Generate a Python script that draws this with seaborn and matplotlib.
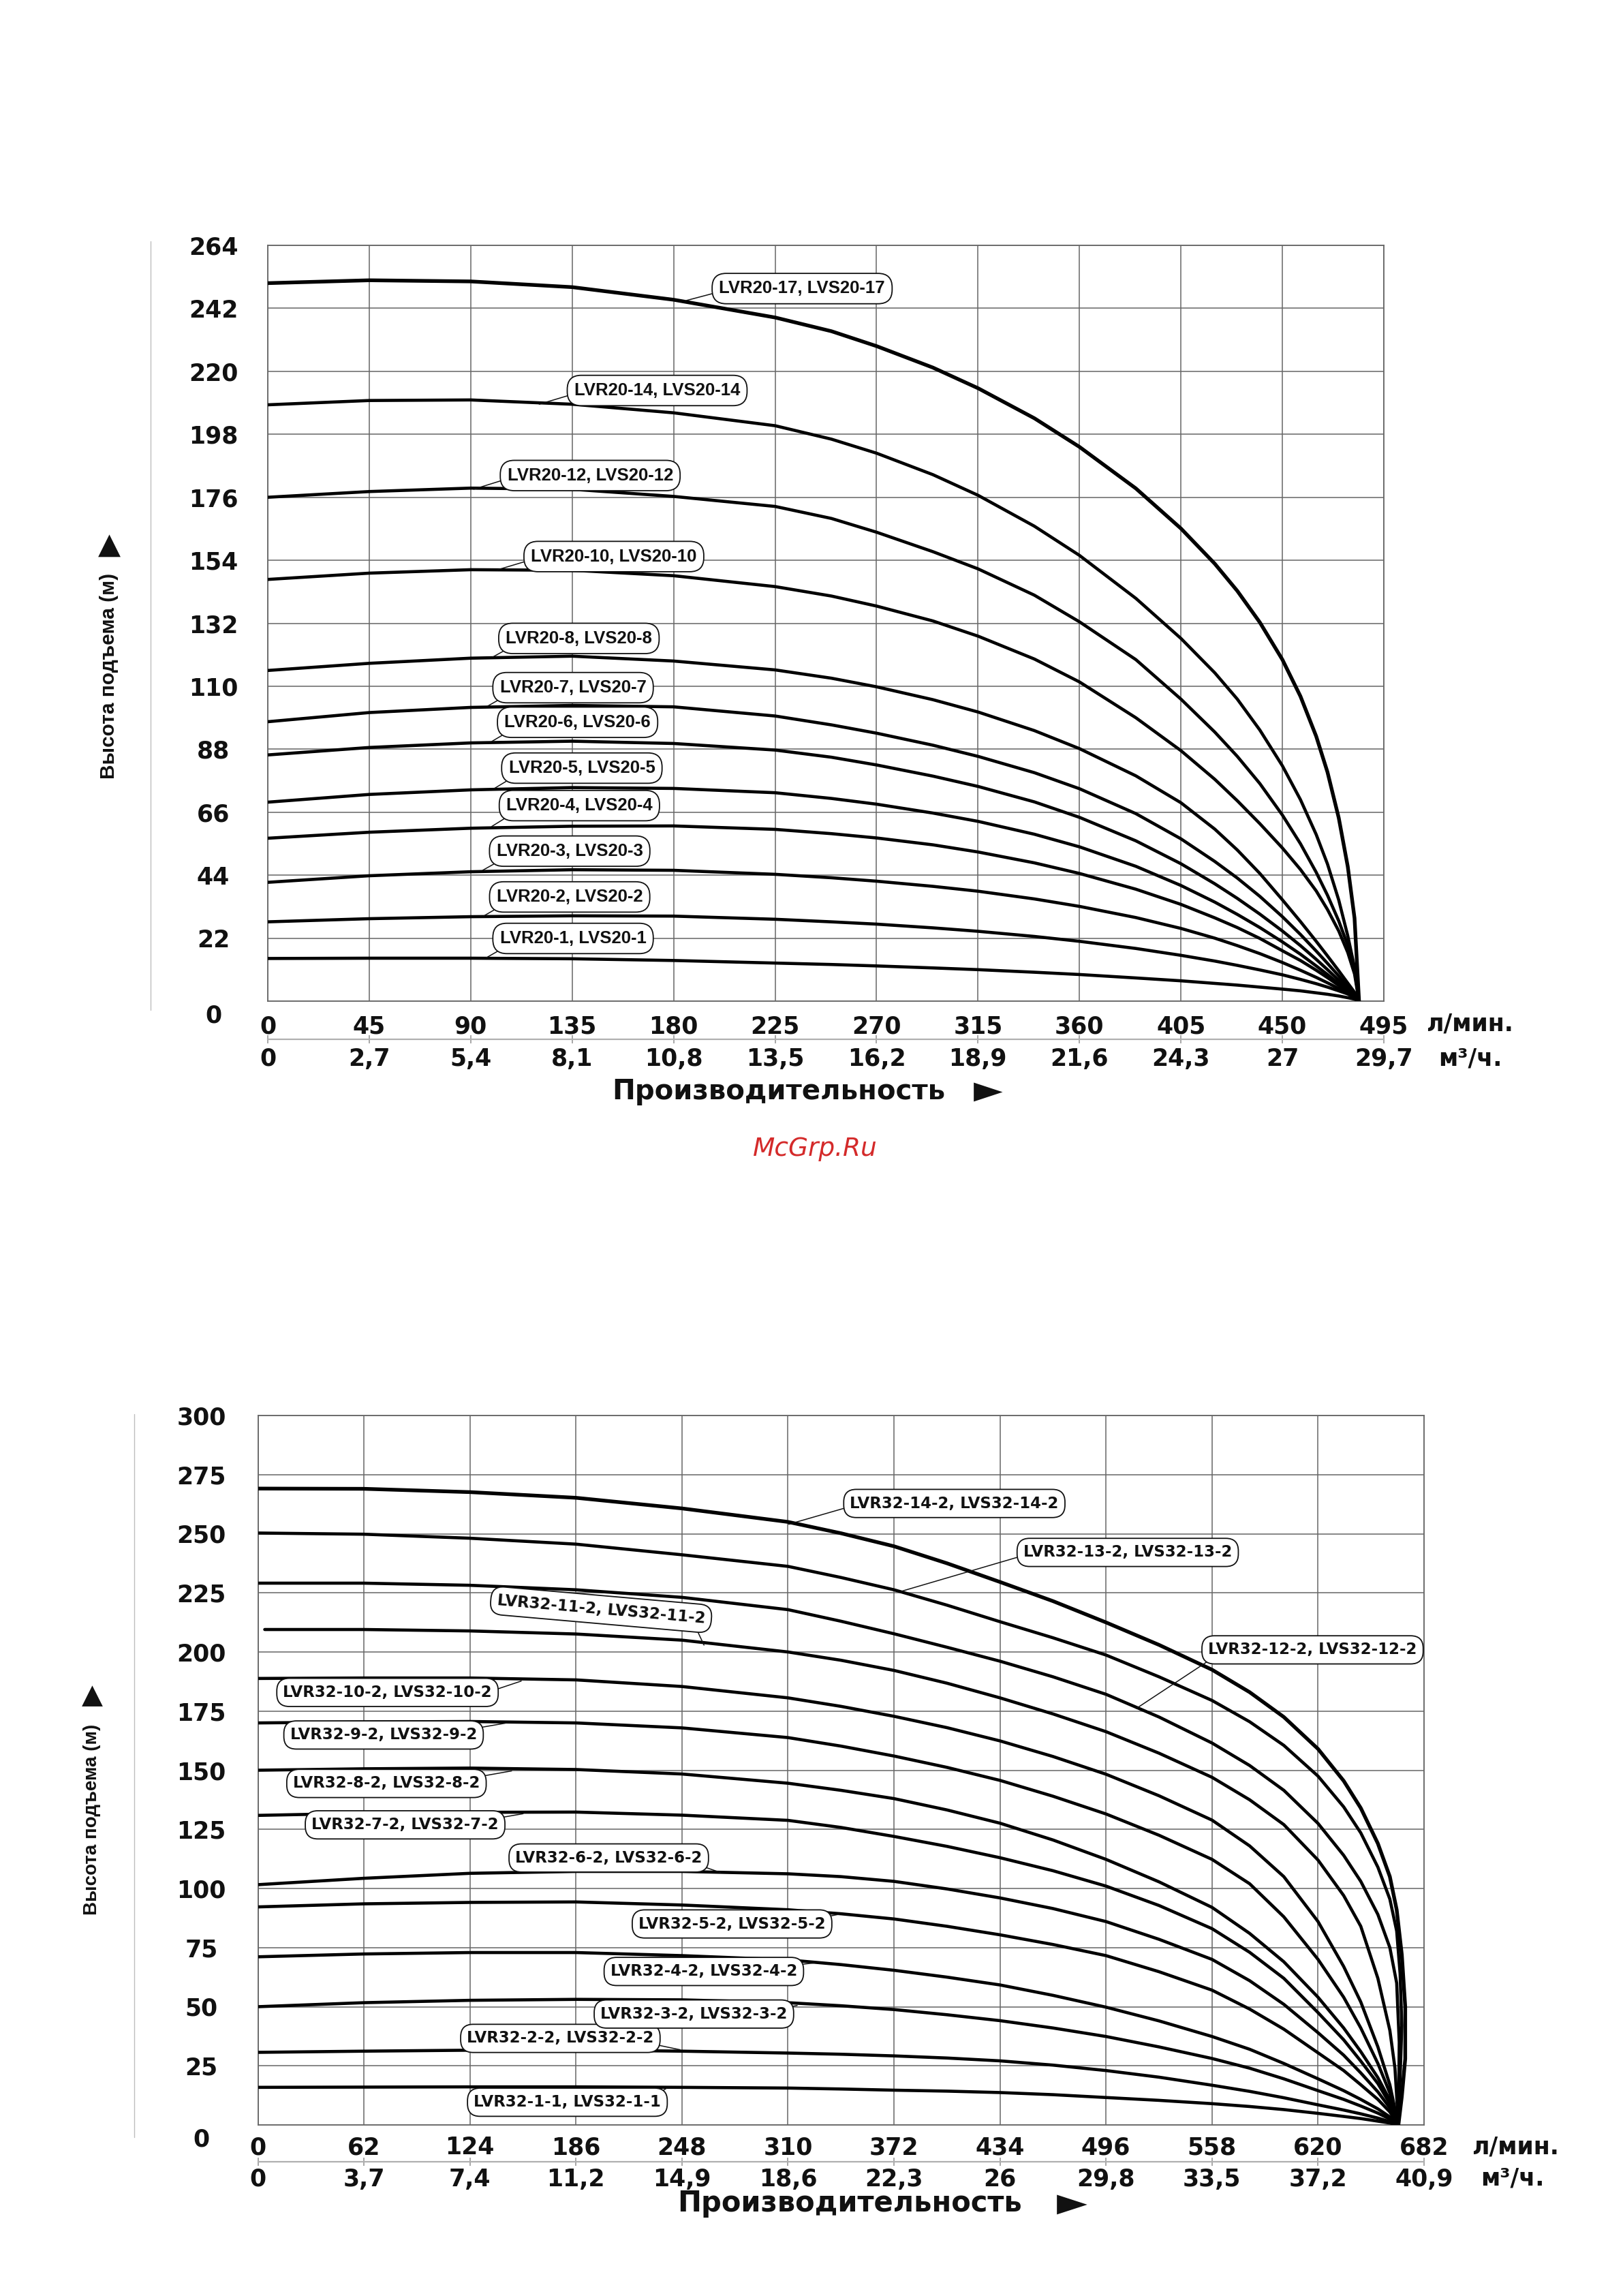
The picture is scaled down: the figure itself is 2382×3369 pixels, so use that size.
import matplotlib
matplotlib.use("Agg")
import matplotlib.pyplot as plt
from matplotlib.lines import Line2D
import pandas as pd
import seaborn as sns

# ---------------- DATA: top chart (LVR20 / LVS20) ----------------
top_q = [0, 45, 90, 135, 180, 225, 250, 270, 295, 315, 340, 360, 385, 405,
         420, 430, 440, 450, 458, 465, 470, 475, 479, 482, 484]
top_h_1 = [14.9, 15.0, 15.0, 14.8, 14.2, 13.3, 12.8, 12.3, 11.6, 11.0, 10.1, 9.3, 8.1, 7.1,
           6.2, 5.6, 4.9, 4.2, 3.6, 2.9, 2.4, 1.8, 1.2, 0.7, 0]
top_h_2 = [27.7, 28.8, 29.5, 29.8, 29.7, 28.6, 27.7, 26.9, 25.6, 24.4, 22.6, 20.9, 18.4, 16.0,
           14.0, 12.5, 10.9, 9.2, 7.6, 6.1, 4.9, 3.6, 2.5, 1.2, 0]
top_h_3 = [41.5, 43.8, 45.2, 45.9, 45.7, 44.3, 43.1, 41.9, 40.1, 38.4, 35.7, 33.1, 29.2, 25.4,
           22.0, 19.4, 16.6, 13.5, 10.8, 8.3, 6.4, 4.4, 2.7, 1.3, 0]
top_h_4 = [56.9, 59.0, 60.4, 61.1, 61.2, 60.0, 58.5, 57.0, 54.6, 52.1, 48.3, 44.6, 39.1, 33.8,
           29.1, 25.7, 21.9, 17.6, 14.2, 10.8, 8.2, 5.5, 3.2, 1.4, 0]
top_h_5 = [69.5, 72.2, 73.8, 74.6, 74.3, 72.8, 70.8, 68.8, 65.7, 62.8, 58.3, 53.9, 47.1, 40.4,
           34.6, 30.3, 25.7, 20.7, 16.4, 12.3, 9.3, 6.1, 3.5, 1.5, 0]
top_h_6 = [86.0, 88.6, 90.2, 90.8, 90.0, 87.7, 85.2, 82.5, 78.6, 75.0, 69.6, 64.2, 56.0, 48.0,
           41.0, 35.9, 30.4, 24.5, 19.4, 14.6, 11.0, 7.3, 4.1, 1.8, 0]
top_h_7 = [97.6, 100.8, 102.6, 103.3, 102.8, 99.6, 96.5, 93.6, 89.4, 85.5, 79.8, 74.2, 65.5, 56.7,
           48.8, 43.0, 36.6, 29.5, 23.3, 17.5, 13.2, 8.8, 5.0, 2.2, 0]
top_h_8 = [115.5, 118.0, 119.8, 120.5, 118.8, 115.7, 112.8, 109.8, 105.3, 101.0, 94.5, 88.2, 78.7, 69.3,
           60.1, 52.8, 44.6, 35.4, 27.8, 20.9, 15.8, 10.6, 6.3, 3.1, 0]
top_h_10 = [147.3, 149.5, 150.7, 150.5, 148.6, 144.8, 141.5, 138.0, 132.8, 127.5, 119.5, 111.5, 99.0, 87.5,
            77.5, 70.0, 62.0, 53.5, 46.0, 38.5, 32.0, 24.5, 17.0, 9.5, 0]
top_h_12 = [176.0, 178.0, 179.2, 178.8, 176.3, 172.8, 168.6, 163.8, 157.0, 151.0, 141.8, 132.5, 119.3, 105.5,
            94.0, 85.5, 76.0, 65.0, 55.0, 45.0, 37.0, 28.0, 19.5, 11.0, 0]
top_h_14 = [208.3, 209.8, 210.0, 208.5, 205.5, 201.0, 196.3, 191.4, 183.9, 176.7, 165.9, 155.7, 140.7, 126.7,
            114.7, 105.5, 94.7, 82.2, 70.4, 58.2, 47.9, 35.3, 22.8, 11.8, 0]
top_h_17 = [250.8, 251.8, 251.4, 249.4, 245.0, 238.8, 234.0, 228.8, 221.3, 214.1, 203.6, 193.6, 179.1, 165.1,
            152.8, 143.3, 132.3, 119.3, 106.5, 92.5, 80.0, 64.0, 47.0, 29.0, 0]
top_models = ["LVR20-1, LVS20-1", "LVR20-2, LVS20-2", "LVR20-3, LVS20-3",
              "LVR20-4, LVS20-4", "LVR20-5, LVS20-5", "LVR20-6, LVS20-6",
              "LVR20-7, LVS20-7", "LVR20-8, LVS20-8", "LVR20-10, LVS20-10",
              "LVR20-12, LVS20-12", "LVR20-14, LVS20-14", "LVR20-17, LVS20-17"]
top_heads = [top_h_1, top_h_2, top_h_3, top_h_4, top_h_5, top_h_6, top_h_7,
             top_h_8, top_h_10, top_h_12, top_h_14, top_h_17]
# label box centre (Q, H) and leader end point on the curve (Q, H)
top_label_pos = [(135.4, 21.9), (133.9, 36.4), (133.9, 52.4), (138.2, 68.3),
                 (139.3, 81.4), (137.4, 97.4), (135.4, 109.5), (138.0, 126.7),
                 (153.5, 155.3), (143.0, 183.6), (172.7, 213.3), (237.0, 248.9)]
top_label_tip = [(96.8, 15.1), (95.9, 29.8), (95.3, 45.7), (99.3, 61.0),
                 (100.7, 74.4), (98.9, 90.5), (97.4, 103.0), (99.8, 120.2),
                 (101.6, 150.6), (91.3, 178.8), (120.4, 208.5), (185.0, 244.6)]
top_x_ticks = [0, 45, 90, 135, 180, 225, 270, 315, 360, 405, 450, 495]
top_x_labels = ["0", "45", "90", "135", "180", "225", "270", "315", "360", "405", "450", "495"]
top_m3_labels = ["0", "2,7", "5,4", "8,1", "10,8", "13,5", "16,2", "18,9", "21,6", "24,3", "27", "29,7"]
top_y_ticks = [0, 22, 44, 66, 88, 110, 132, 154, 176, 198, 220, 242, 264]
top_y_labels = ["0", "22", "44", "66", "88", "110", "132", "154", "176", "198", "220", "242", "264"]

# ---------------- DATA: bottom chart (LVR32 / LVS32) ----------------
bot_q = [0, 62, 124, 186, 248, 310, 341, 372, 403, 434, 465, 496, 527, 558,
         580, 600, 620, 635, 645, 655, 662, 667]
bot_q_11 = [4, 62, 124, 186, 248, 310, 341, 372, 403, 434, 465, 496, 527, 558,
            580, 600, 620, 635, 645, 655, 662, 665, 667]
bot_q_12 = [0, 62, 124, 186, 248, 310, 341, 372, 403, 434, 465, 496, 527, 558,
            580, 600, 620, 635, 645, 655, 662, 666, 667.5, 667]
bot_q_13 = [0, 62, 124, 186, 248, 310, 341, 372, 403, 434, 465, 496, 527, 558,
            580, 600, 620, 635, 645, 655, 662, 666, 668, 669, 668, 667]
bot_q_14 = [0, 62, 124, 186, 248, 310, 341, 372, 403, 434, 465, 496, 527, 558,
            580, 600, 620, 635, 645, 655, 662, 666, 669, 671, 671, 669, 667]
bot_h_1 = [15.9, 16.0, 16.1, 16.1, 15.9, 15.6, 15.2, 14.7, 14.3, 13.7, 12.8, 11.6, 10.4, 9.0,
           7.8, 6.5, 4.9, 3.6, 2.7, 1.6, 0.8, 0]
bot_h_2 = [30.7, 31.2, 31.6, 31.7, 31.2, 30.4, 29.9, 29.2, 28.3, 27.1, 25.3, 23.0, 20.2, 16.8,
           14.2, 11.5, 8.5, 6.3, 4.7, 2.9, 1.4, 0]
bot_h_3 = [50.0, 51.7, 52.7, 53.1, 52.9, 51.7, 50.4, 48.8, 46.6, 44.1, 41.0, 37.4, 33.0, 28.1,
           24.0, 19.5, 14.5, 10.8, 8.0, 5.0, 2.5, 0]
bot_h_4 = [71.1, 72.3, 72.9, 72.9, 71.6, 69.8, 67.8, 65.4, 62.5, 59.2, 54.8, 49.8, 44.0, 37.4,
           32.0, 26.0, 19.5, 14.5, 10.8, 6.8, 3.4, 0]
bot_h_5 = [92.2, 93.5, 94.1, 94.3, 93.0, 91.0, 89.3, 87.1, 84.0, 80.4, 76.3, 71.6, 64.8, 57.0,
           49.0, 40.5, 30.5, 23.0, 17.0, 10.8, 5.5, 0]
bot_h_6 = [101.6, 104.3, 106.4, 107.2, 107.2, 106.2, 105.0, 103.0, 99.8, 96.0, 91.5, 86.0, 78.5, 70.0,
           61.0, 51.0, 39.0, 29.5, 22.0, 14.0, 7.2, 0]
bot_h_7 = [130.9, 131.8, 132.2, 132.3, 131.0, 128.8, 125.8, 122.0, 117.8, 113.0, 107.5, 101.0, 92.8, 83.0,
           73.0, 62.0, 47.5, 36.0, 27.0, 17.5, 9.0, 0]
bot_h_8 = [150.0, 150.6, 150.9, 150.3, 148.4, 144.5, 141.5, 138.0, 133.2, 127.6, 120.5, 112.3, 102.8, 92.0,
           81.0, 69.0, 54.0, 41.0, 31.0, 20.0, 10.5, 0]
bot_h_9 = [170.0, 170.4, 170.6, 170.0, 167.9, 163.8, 160.2, 156.0, 151.2, 145.7, 139.0, 131.5, 122.5, 112.3,
           102.0, 88.0, 70.0, 54.0, 41.0, 26.0, 13.5, 0]
bot_h_10 = [188.8, 189.0, 189.0, 188.2, 185.4, 180.6, 177.0, 172.8, 168.0, 162.4, 155.8, 148.3, 139.2, 128.9,
            118.0, 105.0, 86.0, 67.0, 52.0, 33.0, 17.0, 0]
bot_h_11 = [209.5, 209.5, 208.9, 207.6, 205.0, 200.0, 196.5, 192.2, 186.8, 180.6, 173.8, 166.3, 157.2, 147.0,
            137.5, 127.0, 112.0, 97.0, 84.0, 62.0, 40.0, 24.0, 0]
bot_h_12 = [229.1, 229.1, 228.2, 226.3, 223.1, 217.9, 213.0, 207.7, 202.0, 196.1, 189.5, 182.1, 172.5, 161.5,
            152.0, 141.5, 127.5, 114.0, 103.0, 89.0, 75.0, 60.0, 35.0, 0]
bot_h_13 = [250.3, 249.8, 248.1, 245.6, 241.1, 236.2, 231.5, 226.3, 219.8, 212.8, 206.0, 198.7, 189.5, 179.5,
            170.5, 160.5, 147.5, 134.5, 123.5, 109.0, 95.5, 82.0, 64.0, 42.0, 20.0, 0]
bot_h_14 = [269.1, 269.0, 267.6, 265.2, 260.7, 255.0, 250.2, 244.7, 237.5, 229.6, 221.5, 212.5, 203.0, 192.5,
            183.0, 172.5, 159.0, 145.5, 134.0, 119.0, 105.0, 91.0, 72.0, 50.0, 28.0, 12.0, 0]
bot_models = ["LVR32-1-1, LVS32-1-1", "LVR32-2-2, LVS32-2-2", "LVR32-3-2, LVS32-3-2",
              "LVR32-4-2, LVS32-4-2", "LVR32-5-2, LVS32-5-2", "LVR32-6-2, LVS32-6-2",
              "LVR32-7-2, LVS32-7-2", "LVR32-8-2, LVS32-8-2", "LVR32-9-2, LVS32-9-2",
              "LVR32-10-2, LVS32-10-2", "LVR32-11-2, LVS32-11-2", "LVR32-12-2, LVS32-12-2",
              "LVR32-13-2, LVS32-13-2", "LVR32-14-2, LVS32-14-2"]
bot_heads = [bot_h_1, bot_h_2, bot_h_3, bot_h_4, bot_h_5, bot_h_6, bot_h_7,
             bot_h_8, bot_h_9, bot_h_10, bot_h_11, bot_h_12, bot_h_13, bot_h_14]
bot_qs = [bot_q] * 10 + [bot_q_11, bot_q_12, bot_q_13, bot_q_14]
bot_label_pos = [(181.0, 9.6), (176.9, 36.6), (255.0, 46.9), (260.8, 64.9),
                 (277.3, 85.0), (205.2, 112.9), (86.1, 126.9), (75.2, 144.4),
                 (73.5, 164.9), (75.8, 182.9), (200.7, 217.9), (616.8, 200.9),
                 (508.7, 242.1), (407.3, 262.8)]
bot_label_tip = [(239.0, 15.5), (246.9, 31.8), (315.4, 50.5), (325.4, 68.5),
                 (340.0, 89.1), (270.6, 106.7), (155.1, 131.6), (148.4, 149.7),
                 (144.8, 169.9), (154.0, 187.7), (260.9, 202.9), (513.7, 176.1),
                 (376.5, 225.7), (310.4, 254.0)]
bot_x_ticks = [0, 62, 124, 186, 248, 310, 372, 434, 496, 558, 620, 682]
bot_x_labels = ["0", "62", "124", "186", "248", "310", "372", "434", "496", "558", "620", "682"]
bot_m3_labels = ["0", "3,7", "7,4", "11,2", "14,9", "18,6", "22,3", "26", "29,8", "33,5", "37,2", "40,9"]
bot_y_ticks = [0, 25, 50, 75, 100, 125, 150, 175, 200, 225, 250, 275, 300]
bot_y_labels = ["0", "25", "50", "75", "100", "125", "150", "175", "200", "225", "250", "275", "300"]

# ---------------- STYLE ----------------
sns.set_theme(style="white")
plt.rcParams["font.family"] = ["DejaVu Sans"]
W, H = 2382, 3369
DPI = 100
PT = 72.0 / DPI   # points per pixel
fig = plt.figure(figsize=(W / DPI, H / DPI), dpi=DPI)
fig.patch.set_facecolor("white")


def fx(px):
    return px / W


def fy(py):
    return 1 - py / H


LABEL_FAM = ["Liberation Sans", "DejaVu Sans"]
INK = "#111111"


def build_chart(ax, qs, heads, models, xmax, ymax, x_ticks, x_labels, m3_labels,
                y_ticks, y_labels, axis_h_px, ylab_px, xlab1_px, sec_px, xlab2_px):
    frames = [pd.DataFrame({"Q": q, "H": h, "model": m})
              for q, h, m in zip(qs, heads, models)]
    df = pd.concat(frames, ignore_index=True)
    sns.lineplot(data=df, x="Q", y="H", hue="model", hue_order=models,
                 palette={m: "black" for m in models}, estimator=None, sort=False,
                 legend=False, linewidth=3.3, ax=ax, zorder=3)
    ax.lines[-1].set_linewidth(3.9)
    for ln in ax.lines:
        ln.set_solid_capstyle("round")
        ln.set_solid_joinstyle("round")
    ax.set_xlim(0, xmax)
    ax.set_ylim(0, ymax)
    ax.set_xlabel("")
    ax.set_ylabel("")
    ax.grid(True, color="#666666", linewidth=1.1)
    ax.set_axisbelow(True)
    for s in ax.spines.values():
        s.set_color("#666666")
        s.set_linewidth(1.3)
        s.set_visible(True)
    ax.set_xticks(x_ticks, labels=x_labels)
    ax.set_yticks(y_ticks, labels=[""] + y_labels[1:])
    ax.tick_params(axis="both", length=0, labelsize=25)
    ax.tick_params(axis="x", pad=xlab1_px * PT)
    ax.tick_params(axis="y", pad=ylab_px * PT)
    for lb in ax.get_xticklabels():
        lb.set_fontweight("bold")
        lb.set_va("center")
        lb.set_color(INK)
    for lb in ax.get_yticklabels():
        lb.set_fontweight("bold")
        lb.set_ha("center")
        lb.set_color(INK)
    # "0" of the y axis sits a little lower than the axis line
    ax.annotate(y_labels[0], xy=(0, 0), xycoords="axes fraction",
                xytext=(-ylab_px * PT, -21 * PT), textcoords="offset points",
                ha="center", va="center", fontsize=25, fontweight="bold", color=INK)
    # secondary scale in m3/h
    sec = ax.secondary_xaxis(-sec_px / axis_h_px)
    sec.set_xticks(x_ticks, labels=m3_labels)
    sec.spines["bottom"].set_color("#b0b0b0")
    sec.spines["bottom"].set_linewidth(1.6)
    sec.tick_params(axis="x", direction="inout", length=9 * PT * 1.4, width=1.3,
                    color="#a0a0a0", labelsize=25, pad=(xlab2_px - sec_px - 4.5) * PT)
    for lb in sec.get_xticklabels():
        lb.set_fontweight("bold")
        lb.set_va("center")
        lb.set_color(INK)
    return ax


# ---------------- TOP CHART ----------------
ax1 = fig.add_axes([fx(393), fy(1469), (2031 - 393) / W, (1469 - 360) / H])
build_chart(ax1, [top_q] * len(top_heads), top_heads, top_models, 495, 264,
            top_x_ticks, top_x_labels, top_m3_labels, top_y_ticks, top_y_labels,
            axis_h_px=1109, ylab_px=80, xlab1_px=37, sec_px=56, xlab2_px=83)

top_relpos = [(0.05, 0.05)] * 8 + [(0.0, 0.3)] * 4
for txt, pos, tip, rp in zip(top_models, top_label_pos, top_label_tip, top_relpos):
    ax1.annotate(txt, xy=tip, xytext=pos, textcoords="data", ha="center", va="center",
                 fontsize=18.5, fontweight="bold", family=LABEL_FAM, color=INK,
                 bbox=dict(boxstyle="round,pad=0.4,rounding_size=0.8", fc="white",
                           ec=INK, lw=1.3),
                 arrowprops=dict(arrowstyle="-", color=INK, lw=1.1, relpos=rp,
                                 shrinkA=0, shrinkB=0),
                 zorder=6)

# ---------------- BOTTOM CHART ----------------
ax2 = fig.add_axes([fx(378.5), fy(3118), (2090 - 378.5) / W, (3118 - 2077) / H])
build_chart(ax2, bot_qs, bot_heads, bot_models, 682, 300,
            bot_x_ticks, bot_x_labels, bot_m3_labels, bot_y_ticks, bot_y_labels,
            axis_h_px=1041, ylab_px=83, xlab1_px=33, sec_px=54, xlab2_px=78)

bot_relpos = [(0.97, 0.95), (0.97, 0.2), (0.98, 0.9), (0.98, 0.9), (0.98, 0.9),
              (0.97, 0.1), (0.98, 0.9), (0.98, 0.9), (0.98, 0.9), (1.0, 0.6),
              (0.95, 0.0), (0.03, 0.05), (0.0, 0.3), (0.0, 0.3)]
bot_rot = [0] * 10 + [-5] + [0] * 3
for txt, pos, tip, rp, rot in zip(bot_models, bot_label_pos, bot_label_tip, bot_relpos, bot_rot):
    ax2.annotate(txt, xy=tip, xytext=pos, textcoords="data", ha="center", va="center",
                 rotation=rot, rotation_mode="anchor",
                 fontsize=16.5, fontweight="bold", family=["DejaVu Sans"], color=INK,
                 bbox=dict(boxstyle="round,pad=0.4,rounding_size=0.8", fc="white",
                           ec=INK, lw=1.3),
                 arrowprops=dict(arrowstyle="-", color=INK, lw=1.1, relpos=rp,
                                 shrinkA=0, shrinkB=0),
                 zorder=6)

# ---------------- TEXTS ----------------
units_kw = dict(fontsize=25, fontweight="bold", ha="left", va="center", color=INK)
fig.text(fx(2093), fy(1503), "л/мин.", **units_kw)
fig.text(fx(2111), fy(1553), "м³/ч.", **units_kw)
fig.text(fx(2160), fy(3151), "л/мин.", **units_kw)
fig.text(fx(2173), fy(3196), "м³/ч.", **units_kw)

# x-axis titles with their arrows
fig.text(fx(898), fy(1602), "Производительность", fontsize=29, fontweight="bold",
         ha="left", va="center", color=INK)
fig.text(fx(1450), fy(1602), "►", fontsize=40, ha="center", va="center", color=INK)
fig.text(fx(994), fy(3233), "Производительность", fontsize=30, fontweight="bold",
         ha="left", va="center", color=INK)
fig.text(fx(1573), fy(3233), "►", fontsize=42, ha="center", va="center", color=INK)

# y-axis titles with their arrows
fig.text(fx(160), fy(992), "Высота подъема (м)", rotation=90, fontsize=21.5,
         fontweight="bold", family=LABEL_FAM, ha="center", va="center", color=INK)
fig.text(fx(160), fy(800), "▲", fontsize=31, ha="center", va="center", color=INK)
fig.text(fx(135), fy(2670), "Высота подъема (м)", rotation=90, fontsize=20,
         fontweight="bold", family=LABEL_FAM, ha="center", va="center", color=INK)
fig.text(fx(135), fy(2488), "▲", fontsize=29, ha="center", va="center", color=INK)

fig.text(fx(1196), fy(1686), "McGrp.Ru", fontsize=27, style="italic", color="#d42a2a",
         ha="center", va="center")

# thin decorative vertical rules left of each chart
fig.add_artist(Line2D([fx(221), fx(221)], [fy(354), fy(1482)], color="#bdbdbd", lw=1.0))
fig.add_artist(Line2D([fx(197), fx(197)], [fy(2075), fy(3136)], color="#bdbdbd", lw=1.0))

fig.savefig("out.png", dpi=DPI, facecolor="white")
